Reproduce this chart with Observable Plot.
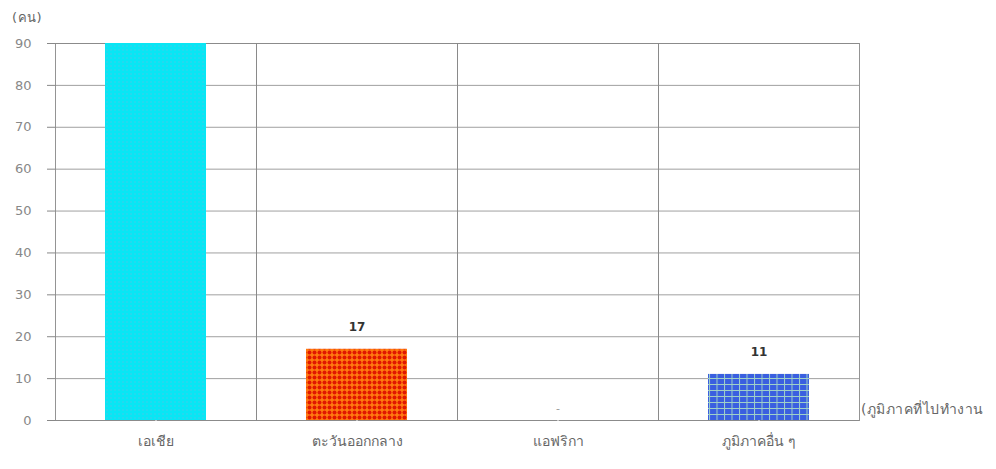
<!DOCTYPE html>
<html><head><meta charset="utf-8">
<script src="https://cdn.jsdelivr.net/npm/d3@7"></script>
<script src="https://cdn.jsdelivr.net/npm/@observablehq/plot@0.6"></script>
<style>
html,body{margin:0;padding:0;background:#fff;}
#wrap{position:relative;width:996px;height:469px;font-family:Tahoma,"DejaVu Sans","Noto Sans",sans-serif;}
.note{position:absolute;font-size:14px;color:#666;white-space:nowrap;letter-spacing:0.5px;}
</style></head>
<body><div id="wrap"></div>
<script>
const regions = ["เอเชีย", "ตะวันออกกลาง", "แอฟริกา", "ภูมิภาคอื่น ๆ"];
const values = [90, 17, 0, 11];
const labels = ["", "17", "-", "11"];
const yTicks = [0, 10, 20, 30, 40, 50, 60, 70, 80, 90];
const unitLabel = "(คน)";
const categoryLabel = "(ภูมิภาคที่ไปทำงาน";

const fills = ["url(#pCyan)", "url(#pRed)", "#ffffff", "url(#pBlue)"];
const data = regions.map((r, i) => ({region: r, value: values[i], label: labels[i], fill: fills[i]}));

const chart = Plot.plot({
  width: 996, height: 469,
  marginTop: 43, marginBottom: 49, marginLeft: 54, marginRight: 136,
  style: {fontFamily: 'Tahoma,"DejaVu Sans","Noto Sans",sans-serif', fontSize: "12px", color: "#666", background: "#fff"},
  fx: {domain: regions, padding: 0, label: null, axis: null},
  y: {domain: [0, 90], label: null},
  marks: [
    Plot.gridY(yTicks, {stroke: "#888", strokeOpacity: 0.8}),
    Plot.frame({stroke: "#888", strokeOpacity: 0.9}),
    Plot.barY(data, {fx: "region", y: "value", fill: "fill", insetLeft: 50, insetRight: 50}),
    Plot.text(data.filter(d => d.value > 0), {fx: "region", y: "value", text: "label", dy: -22, fontWeight: "bold", fill: "#333", fontSize: 12}),
    Plot.text(data.filter(d => d.value === 0), {fx: "region", y: "value", text: "label", dy: -12, fill: "#999", fontSize: 11}),
    Plot.axisY(yTicks, {tickSize: 8, tickPadding: 16, stroke: "#888", fill: "#888", label: null, fontSize: 13}),
    Plot.axisFx({anchor: "bottom", tickSize: 4, tickPadding: 12, stroke: "#ffffff", fill: "#666", label: null, fontSize: 14, style: "letter-spacing:0.5px"})
  ]
});

const ns = "http://www.w3.org/2000/svg";
const defs = document.createElementNS(ns, "defs");
defs.innerHTML = `
<pattern id="pCyan" patternUnits="userSpaceOnUse" width="4" height="4">
  <rect width="4" height="4" fill="#08e6f4"/>
  <circle cx="2" cy="2" r="0.9" fill="#30d4ec"/>
</pattern>
<pattern id="pRed" patternUnits="userSpaceOnUse" width="5" height="5">
  <rect width="5" height="5" fill="#ff7a10"/>
  <circle cx="2.5" cy="2.5" r="2" fill="#e01800"/>
</pattern>
<pattern id="pBlue" patternUnits="userSpaceOnUse" width="7.5" height="6">
  <rect width="7.5" height="6" fill="#9fd0c8"/>
  <rect x="1" y="1" width="6.5" height="5" fill="#3a5fe0"/>
</pattern>`;
chart.insertBefore(defs, chart.firstChild);

const wrap = document.getElementById("wrap");
wrap.appendChild(chart);
const n1 = document.createElement("div");
n1.className = "note"; n1.textContent = unitLabel; n1.style.fontSize = "13px";
n1.style.left = "12px"; n1.style.top = "7px";
wrap.appendChild(n1);
const n2 = document.createElement("div");
n2.className = "note"; n2.textContent = categoryLabel;
n2.style.left = "861px"; n2.style.top = "398px";
wrap.appendChild(n2);
</script></body></html>
